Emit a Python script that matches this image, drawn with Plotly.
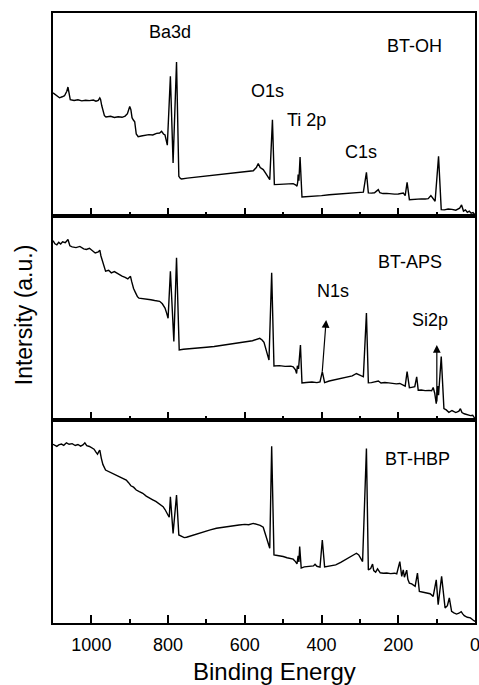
import plotly.graph_objects as go

# ---------------- data (binding energy in eV, intensity in arbitrary units 0-100 per panel) -------------
bt_oh_energy = [1100, 1092, 1083, 1076, 1070, 1064, 1061, 1058, 1055, 1045, 1035, 1025, 1015, 1005, 995, 988,
                982, 978, 976, 973, 970, 966, 962, 950, 940, 930, 920, 912, 906, 902, 900, 897, 894, 891, 887,
                883, 878, 870, 860, 850, 840, 830, 822, 817, 812, 808, 805, 802, 794, 787, 778, 772, 768, 765,
                750, 730, 710, 690, 670, 650, 630, 610, 590, 578, 570, 565, 560, 552, 545, 535, 528, 523, 510,
                495, 480, 474, 468, 464, 462, 461, 459, 456, 451, 440, 420, 400, 380, 360, 340, 320, 300, 291,
                283, 278, 270, 262, 256, 252, 248, 240, 230, 220, 210, 200, 192, 187, 182, 177, 171, 160, 150,
                140, 130, 122, 115, 110, 104, 95, 88, 80, 70, 60, 50, 40, 35, 30, 25, 20, 15, 10, 5, 0]
bt_oh_counts = [60.7, 59.5, 58.3, 58.8, 59.3, 61.5, 63.6, 60.5, 57.4, 57.0, 57.3, 56.8, 57.1, 56.9, 57.2, 56.6,
                57.0, 58.2, 57.5, 54.5, 52.5, 49.5, 48.9, 49.2, 48.6, 49.0, 48.7, 49.3, 50.5, 53.0, 54.0, 52.5,
                48.5, 47.5, 46.5, 40.5, 39.2, 39.5, 39.8, 40.2, 40.0, 40.8, 41.0, 41.8, 40.5, 40.0, 37.5, 35.0,
                68.9, 26.2, 75.9, 19.7, 18.6, 18.4, 18.8, 19.2, 19.8, 20.2, 20.6, 21.0, 21.3, 21.7, 22.0, 22.4,
                24.0, 26.0, 24.0, 23.0, 21.0, 18.0, 47.5, 15.6, 15.7, 15.9, 16.0, 16.1, 15.5, 14.8, 17.0, 20.5,
                17.5, 29.2, 9.5, 9.6, 9.9, 10.2, 10.6, 10.9, 11.2, 11.5, 11.7, 11.9, 21.6, 11.5, 11.4, 11.6,
                12.5, 13.1, 11.6, 11.2, 11.3, 11.0, 10.9, 11.0, 11.1, 11.5, 10.2, 16.7, 8.2, 8.4, 8.3, 8.6, 8.5,
                8.7, 10.2, 9.0, 7.4, 29.5, 3.3, 3.2, 3.6, 3.4, 3.0, 4.0, 5.6, 2.6, 3.2, 2.0, 2.6, 1.5, 1.8, 0.8]

bt_aps_energy = [1100, 1095, 1090, 1085, 1080, 1075, 1068, 1061, 1056, 1050, 1040, 1030, 1020, 1013, 1005, 998,
                 990, 982, 978, 975, 970, 966, 963, 955, 948, 940, 930, 920, 912, 905, 902, 898, 895, 890, 885,
                 880, 876, 865, 855, 845, 835, 822, 815, 808, 804, 800, 794, 787, 785, 778, 771, 760, 745, 730,
                 717, 700, 680, 660, 640, 620, 600, 580, 561, 555, 550, 545, 540, 537, 530, 524, 510, 495, 480,
                 474, 468, 465, 463, 460, 455, 451, 440, 425, 412, 404, 398, 392, 380, 365, 350, 335, 320, 309,
                 300, 291, 283, 278, 270, 260, 252, 245, 235, 225, 215, 205, 196, 188, 182, 177, 171, 165, 157,
                 152, 148, 140, 130, 120, 113, 109, 105, 101, 97, 95, 88, 81, 75, 68, 60, 50, 42, 38, 34, 28,
                 20, 12, 6, 0]
bt_aps_counts = [88.0, 86.5, 86.0, 87.2, 86.4, 87.5, 87.0, 88.6, 85.5, 85.0, 84.6, 85.2, 84.0, 83.7, 84.3, 83.2,
                 82.0, 82.5, 83.4, 80.5, 77.0, 74.0, 73.0, 73.5, 72.2, 72.8, 71.5, 70.6, 70.0, 69.2, 69.8, 70.5,
                 68.0, 64.5, 62.5, 60.5, 59.8, 59.6, 59.2, 59.0, 58.6, 58.2, 57.0, 54.9, 52.5, 49.9, 73.0, 40.0,
                 38.4, 79.6, 34.3, 34.6, 34.8, 35.0, 35.1, 35.6, 36.0, 36.6, 37.0, 37.6, 38.2, 38.8, 40.0, 39.2,
                 38.0, 35.0, 31.5, 29.3, 72.2, 26.4, 26.6, 26.2, 26.3, 26.0, 24.5, 22.7, 26.5, 25.0, 36.7, 18.1,
                 18.3, 18.5, 18.2, 18.6, 23.6, 18.2, 19.0, 19.6, 20.2, 20.8, 21.5, 22.7, 22.0, 21.1, 52.4, 18.1,
                 18.2, 18.6, 19.0, 18.0, 18.3, 18.1, 17.9, 17.6, 17.8, 17.2, 16.5, 23.6, 15.7, 15.9, 16.2, 21.1,
                 14.5, 14.6, 14.3, 14.4, 14.2, 15.8, 13.0, 7.9, 16.5, 12.0, 31.0, 5.4, 4.8, 3.6, 4.5, 3.5, 4.2,
                 5.4, 3.5, 2.9, 2.5, 2.0, 2.2, 0.5]

bt_hbp_energy = [1100, 1095, 1090, 1085, 1078, 1072, 1065, 1058, 1050, 1042, 1035, 1028, 1022, 1017, 1012, 1005,
                 998, 993, 988, 984, 980, 978, 974, 970, 963, 955, 948, 940, 935, 928, 920, 914, 909, 903, 897,
                 890, 883, 875, 866, 857, 848, 840, 832, 823, 813, 808, 804, 800, 797, 794, 787, 778, 772, 765,
                 758, 752, 745, 735, 725, 717, 705, 690, 674, 660, 645, 630, 615, 600, 590, 578, 570, 560, 552,
                 547, 543, 538, 535, 530, 524, 515, 507, 500, 490, 480, 474, 468, 464, 461, 459, 457, 453, 445,
                 435, 425, 421, 417, 412, 404, 398, 392, 380, 363, 350, 335, 320, 309, 303, 298, 293, 283, 278,
                 272, 267, 264, 259, 254, 247, 239, 230, 220, 210, 204, 196, 191, 187, 184, 181, 178, 175, 171,
                 165, 160, 156, 150, 145, 135, 125, 117, 109, 101, 96, 87, 78, 72, 67, 61, 55, 48, 42, 36, 32,
                 28, 20, 12, 6, 0]
bt_hbp_counts = [87.9, 87.3, 86.9, 87.6, 88.0, 87.4, 88.6, 87.9, 88.2, 87.3, 87.8, 87.0, 87.6, 88.6, 87.2, 86.8,
                 86.0, 85.5, 84.0, 83.0, 84.5, 85.0, 81.0, 78.0, 75.2, 74.5, 73.8, 73.4, 72.7, 72.0, 71.4, 70.9,
                 70.3, 69.0, 67.5, 66.8, 65.4, 64.6, 63.8, 62.4, 61.3, 60.6, 59.8, 58.6, 57.2, 55.8, 54.7, 53.0,
                 52.0, 62.1, 44.1, 62.9, 43.3, 42.8, 42.0, 42.2, 42.6, 43.4, 43.9, 44.4, 45.2, 45.8, 46.6, 47.0,
                 47.6, 47.9, 48.2, 48.5, 48.3, 49.0, 48.6, 48.0, 47.1, 44.0, 40.8, 38.5, 36.8, 86.9, 33.5, 33.2,
                 33.0, 32.7, 32.1, 31.8, 31.4, 30.2, 29.1, 33.0, 30.0, 37.6, 27.0, 27.6, 27.8, 28.0, 28.1, 28.9,
                 27.9, 27.5, 40.8, 27.6, 28.0, 28.6, 29.8, 31.4, 32.8, 34.3, 33.5, 31.9, 30.2, 85.8, 26.1, 26.8,
                 29.0, 25.8, 25.0, 26.6, 24.7, 24.5, 24.6, 24.3, 24.5, 24.2, 30.2, 22.9, 26.1, 22.5, 25.0, 26.0,
                 21.5, 19.6, 19.2, 18.5, 18.0, 24.5, 15.5, 15.1, 14.7, 14.4, 13.1, 21.2, 9.0, 22.9, 7.4, 8.5,
                 12.3, 5.7, 5.0, 4.4, 4.8, 5.6, 4.5, 3.6, 2.8, 2.5, 1.6, 0.8]

x_tick_values = [1000, 800, 600, 400, 200, 0]
x_tick_labels = ["1000", "800", "600", "400", "200", "0"]

# labels: (text, energy, intensity, panel)
peak_labels = [("Ba3d", 795, 90.7, 1), ("BT-OH", 159, 83.6, 1), ("O1s", 541, 61.7, 1),
               ("Ti 2p", 438, 47.2, 1), ("C1s", 297, 31.7, 1),
               ("BT-APS", 169, 77.5, 2), ("N1s", 371, 63.2, 2), ("Si2p", 117, 49.0, 2),
               ("BT-HBP", 150, 80.8, 3)]
# arrows: (tip energy, tip intensity, tail dx px, tail dy px, panel)
peak_arrows = [(388, 49.0, -4, 53, 2), (99.5, 36.7, 0, 58, 2)]

FONT = "Arial, Liberation Sans, Helvetica, sans-serif"
fig = go.Figure()
series = [(bt_oh_energy, bt_oh_counts), (bt_aps_energy, bt_aps_counts), (bt_hbp_energy, bt_hbp_counts)]
for i, (e, c) in enumerate(series, start=1):
    fig.add_trace(go.Scatter(x=e, y=c, mode="lines", line=dict(color="black", width=1.4),
                             xaxis="x" if i == 1 else f"x{i}", yaxis="y" if i == 1 else f"y{i}",
                             showlegend=False, hoverinfo="skip"))

domains = {1: [2/3, 1.0], 2: [1/3, 2/3], 3: [0.0, 1/3]}
layout = dict(width=479, height=685, plot_bgcolor="white", paper_bgcolor="white",
              margin=dict(l=53, r=4, t=13, b=62, autoexpand=False),
              font=dict(family=FONT, color="black"))
for i in (1, 2, 3):
    xs = "xaxis" if i == 1 else f"xaxis{i}"
    ys = "yaxis" if i == 1 else f"yaxis{i}"
    layout[xs] = dict(range=[1100, 0], anchor="y" if i == 1 else f"y{i}", domain=[0, 1],
                      showline=True, linecolor="black", linewidth=2, mirror=True, automargin=False,
                      showgrid=False, zeroline=False, ticks="inside", ticklen=8, tickwidth=1.6,
                      tickcolor="black", tickvals=x_tick_values, ticktext=x_tick_labels,
                      showticklabels=(i == 3), tickfont=dict(size=18, family=FONT, color="black"),
                      ticklabelstandoff=4, ticklabeloverflow="allow",
                      minor=dict(ticks="inside", ticklen=4, tickwidth=1.6, tickcolor="black",
                                 tickvals=[1100, 900, 700, 500, 300, 100]))
    if i != 1:
        layout[xs]["matches"] = "x"
    layout[ys] = dict(range=[0, 100], domain=domains[i], anchor="x" if i == 1 else f"x{i}",
                      showline=True, linecolor="black", linewidth=2, mirror=True, automargin=False,
                      showgrid=False, zeroline=False, showticklabels=False, ticks="")
fig.update_layout(**layout)

for text, e, v, p in peak_labels:
    fig.add_annotation(text=text, x=e, y=v, xref="x" if p == 1 else f"x{p}", yref="y" if p == 1 else f"y{p}",
                       showarrow=False, font=dict(size=18, family=FONT, color="black"),
                       xanchor="center", yanchor="middle")
for e, v, dx, dy, p in peak_arrows:
    fig.add_annotation(text="", x=e, y=v, xref="x" if p == 1 else f"x{p}", yref="y" if p == 1 else f"y{p}",
                       showarrow=True, ax=dx, ay=dy, arrowhead=2, arrowsize=1.3, arrowwidth=1.2,
                       arrowcolor="black")

fig.add_annotation(text="Intersity (a.u.)", xref="paper", yref="paper", x=-0.068, y=0.505,
                   textangle=-90, showarrow=False, font=dict(size=23, family=FONT, color="black"),
                   xanchor="center", yanchor="middle")
fig.add_annotation(text="Binding Energy", xref="paper", yref="paper", x=0.526, y=-0.08,
                   showarrow=False, font=dict(size=24, family=FONT, color="black"),
                   xanchor="center", yanchor="middle")

fig.write_html("out.html", config={"displayModeBar": False},
               post_script="document.body.style.margin='0px';")
